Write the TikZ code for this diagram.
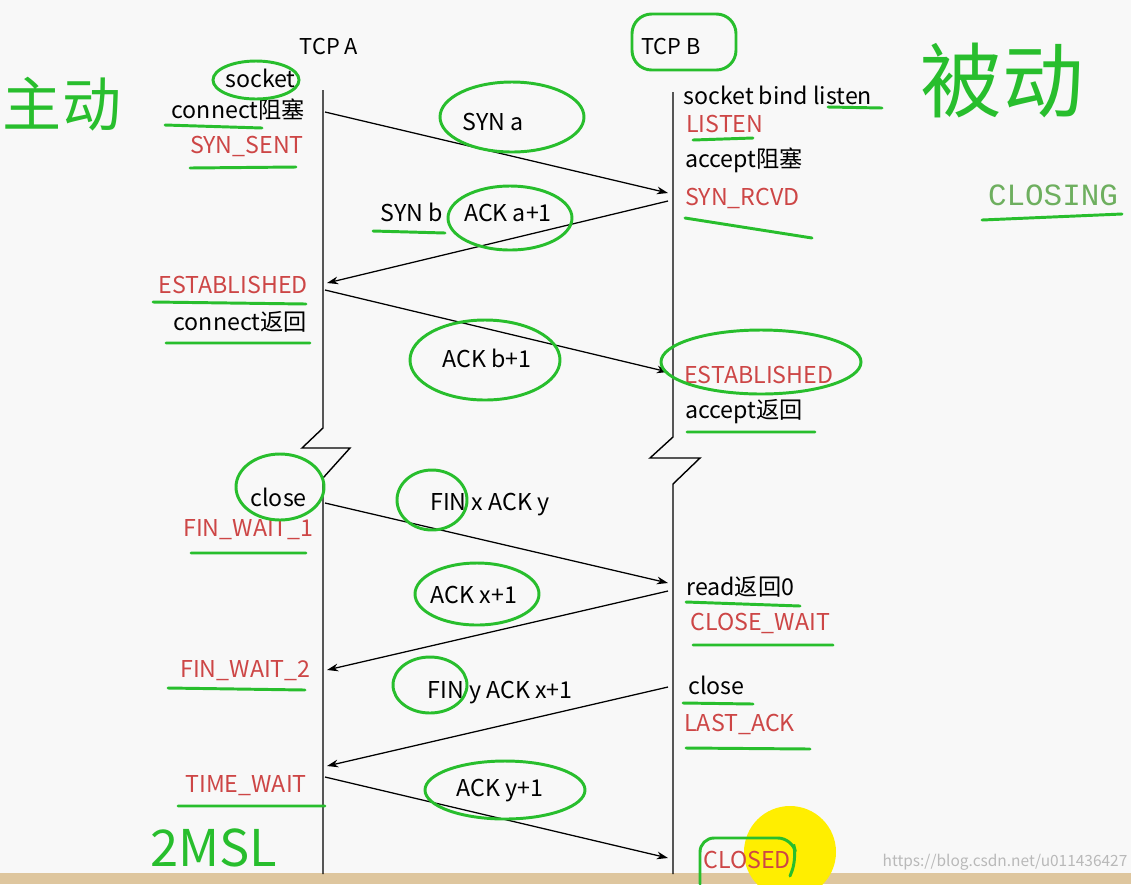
\documentclass[tikz,border=0pt]{standalone}
\usepackage{fontspec}
\usetikzlibrary{arrows.meta}
\setmainfont{Noto Sans CJK SC}
\newfontfamily\monofont{Liberation Mono}
\definecolor{inkgreen}{RGB}{40,190,45}
\definecolor{statered}{RGB}{205,70,70}
\definecolor{paper}{RGB}{248,248,248}
\definecolor{deskline}{RGB}{222,198,158}
\definecolor{closinggreen}{RGB}{110,175,95}
\definecolor{marker}{RGB}{255,238,0}
\tikzset{
  call/.style={font=\fontsize{16.5}{18}\selectfont, inner sep=0pt},
  state/.style={call, text=statered},
  hand/.style={text=inkgreen, inner sep=0pt},
  ink/.style={draw=inkgreen, line width=2.1pt, line cap=round},
  lifeline/.style={line width=1pt},
  segment/.style={line width=0.9pt, ->},
}
\begin{document}
\begin{tikzpicture}[x=0.025cm,y=-0.025cm,>={Stealth[length=8pt,width=5.5pt]}]
	\fill[paper] (0,0) rectangle (1131,884);
	\useasboundingbox (0,0) rectangle (1131,884);
	\fill[deskline] (0,873) rectangle (1131,884);
	\fill[marker] (790,852) circle (46);
	% lifelines with the time break
	\draw[lifeline] (323,90)--(323,428)--(302,448)--(350,448)--(323,478)--(323,874);
	\draw[lifeline] (673,92)--(673,437)--(650,458)--(700,458)--(673,484)--(673,874);
	\node[call,font=\fontsize{15.5}{17}\selectfont] (tcpa) at (329,47) {TCP A};
	\node[call,font=\fontsize{15.5}{17}\selectfont] (tcpb) at (671,47) {TCP B};
	% end points of the segments
	\coordinate (a1) at (325,112); \coordinate (b1) at (668,193);
	\coordinate (b2) at (668,201); \coordinate (a2) at (327,283);
	\coordinate (a3) at (325,290); \coordinate (b3) at (668,372);
	\coordinate (a4) at (325,503); \coordinate (b4) at (668,583);
	\coordinate (b5) at (668,591); \coordinate (a5) at (327,670);
	\coordinate (b6) at (668,687); \coordinate (a6) at (327,766);
	\coordinate (a7) at (325,777); \coordinate (b7) at (668,858);
	\draw[segment] (a1)--(b1);
	\draw[segment] (b2)--(a2);
	\draw[segment] (a3)--(b3);
	\draw[segment] (a4)--(b4);
	\draw[segment] (b5)--(a5);
	\draw[segment] (b6)--(a6);
	\draw[segment] (a7)--(b7);
	% TCP A side
	\node[call,anchor=east] (socketa) at (296,78) {socket};
	\node[call,anchor=east] (connect) at (305,110) {connect阻塞};
	\node[state,anchor=east] (synsent) at (304,146) {SYN\_SENT};
	\node[state,anchor=east] (esta) at (308,285) {ESTABLISHED};
	\node[call,anchor=east] (connectret) at (307,322) {connect返回};
	\node[call,anchor=east] (closea) at (307,497) {close};
	\node[state,anchor=east] (finwait1) at (314,530) {FIN\_WAIT\_1};
	\node[state,anchor=east] (finwait2) at (311,671) {FIN\_WAIT\_2};
	\node[state,anchor=east] (timewait) at (307,786) {TIME\_WAIT};
	% TCP B side
	\node[call,anchor=west] (listen) at (683,95) {socket bind listen};
	\node[state,anchor=west] (listenst) at (686,124) {LISTEN};
	\node[call,anchor=west] (accept) at (685,160) {accept阻塞};
	\node[state,anchor=west] (synrcvd) at (685,198) {SYN\_RCVD};
	\node[state,anchor=west] (estb) at (684,375) {ESTABLISHED};
	\node[call,anchor=west] (acceptret) at (685,412) {accept返回};
	\node[call,anchor=west] (readret) at (686,587) {read返回0};
	\node[state,anchor=west] (closewait) at (690,623) {CLOSE\_WAIT};
	\node[call,anchor=west] (closeb) at (688,685) {close};
	\node[state,anchor=west] (lastack) at (684,724) {LAST\_ACK};
	\node[state,anchor=west] (closed) at (703,860) {CLOSED};
	% segments
	\node[call] (syna) at (493,122) {SYN a};
	\node[call] (synb) at (412,212) {SYN b};
	\node[call] (acka) at (508,213) {ACK a+1};
	\node[call] (ackb) at (487,358) {ACK b+1};
	\node[call] (finx) at (490,505) {FIN x ACK y};
	\node[call] (ackx) at (474,595) {ACK x+1};
	\node[call] (finy) at (500,693) {FIN y ACK x+1};
	\node[call] (acky) at (500,791) {ACK y+1};
	% hand notes
	\node[hand,font=\fontsize{42}{46}\selectfont] (zhudong) at (62,104) {主动};
	\node[hand,font=\fontsize{58}{62}\selectfont] (beidong) at (1002,80) {被动};
	\node[hand,font=\fontsize{36}{40}\selectfont] (msl) at (214,848) {2MSL};
	\node[inner sep=0pt,text=closinggreen,font=\monofont\fontsize{22}{24}\selectfont] (closing) at (1053,195) {CLOSING};
	\node[inner sep=0pt,text=gray!55,font=\fontsize{11}{13}\selectfont] (url) at (1005,862) {https://blog.csdn.net/u011436427};
	% circles and underlines
	\draw[ink] (256,80) ellipse (43 and 19);
	\draw[ink,rounded corners=14] (632,14) rectangle (736,70);
	\draw[ink] (512,117) ellipse (72 and 35);
	\draw[ink] (510,218) ellipse (62 and 32);
	\draw[ink] (485,360) ellipse (75 and 40);
	\draw[ink] (761,362) ellipse (100 and 32);
	\draw[ink] (280,487) ellipse (44 and 33);
	\draw[ink] (432,500) ellipse (35 and 30);
	\draw[ink] (477,594) ellipse (62 and 31);
	\draw[ink] (430,685) ellipse (37 and 28);
	\draw[ink] (505,790) ellipse (80 and 29);
	\draw[ink,rounded corners=10] (700,884) -- (700,838) -- (792,838) -- (797,858) -- (790,876);
	\draw[ink] (165,125)--(262,128) (190,168)--(296,167) (373,231)--(445,233)
		(153,302)--(306,304) (166,343)--(310,343) (191,553)--(306,553)
		(168,688)--(305,690) (178,806)--(325,806);
	\draw[ink] (828,107)--(882,108) (693,140)--(753,138) (685,218)--(812,238)
		(687,432)--(815,432) (686,602)--(800,606) (693,645)--(833,645)
		(683,703)--(753,704) (686,748)--(810,749) (982,220)--(1122,214);
\end{tikzpicture}
\end{document}
